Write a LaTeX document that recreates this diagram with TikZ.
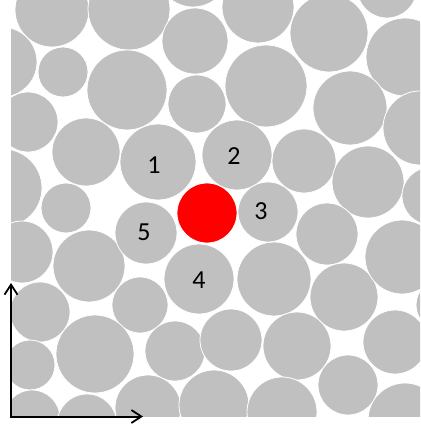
\documentclass[tikz,border=0pt]{standalone}
\usepackage{fontspec}
\setmainfont{Carlito}
\usetikzlibrary{arrows.meta}
\definecolor{ballgray}{HTML}{C0C0C0}
\definecolor{ballred}{HTML}{FF0000}
\tikzset{
  ball/.style={fill=ballgray,draw=white,line width=0.8pt},
  redball/.style={fill=ballred,draw=white,line width=0.8pt},
  lbl/.style={font=\fontsize{26}{26}\selectfont,text=black,inner sep=0pt},
  axis/.style={draw=black,line width=2pt,-{Straight Barb[length=10pt,width=13pt,line width=1.8pt]}}
}
\begin{document}
\begin{tikzpicture}[x=1pt,y=-1pt]
\useasboundingbox[fill=white] (0,0) rectangle (420,427);
\begin{scope}
\clip (11,0) rectangle (420,416);
\foreach \cx/\cy/\r in {
  52/10/37, 129/9/41, 2/62/35, 63/72/25, 127/90/40, 195/41/33, 193/-29/36,
  197/104/29, 28/122/30, 86/152/34, 3/188/39, 66/208/25,
  258/7/36, 329/33/39, 387/-12/30, 405/57/39, 266/86/41, 350/108/37, 420/128/37,
  304/161/32, 368/182/36, 431/196/29, 327/234/31,
  22/252/31, 89/266/36, 140/305/28, 40/312/30, 95/354/39, 175/351/30,
  30/365/25, 32/418/28, 87/424/30, 148/408/33, 214/405/35,
  274/279/37, 344/297/34, 402/257/37, 442/305/26, 231/340/31, 297/346/34,
  395/342/32, 348/385/30, 282/412/35, 405/420/37}
  \path[ball] (\cx,\cy) circle[radius=\r pt];
\path[ball] (158,162) circle[radius=38pt];
\path[ball] (237,155) circle[radius=35pt];
\path[ball] (268,212) circle[radius=30pt];
\path[ball] (199,279) circle[radius=35pt];
\path[ball] (146,233) circle[radius=31pt];
\path[redball] (207,213) circle[radius=30pt];
\end{scope}
\node[lbl] (n1) at (154,165) {1};
\node[lbl] (n2) at (234,156) {2};
\node[lbl] (n3) at (261,211) {3};
\node[lbl] (n4) at (199,280) {4};
\node[lbl] (n5) at (144,232) {5};
\coordinate (o) at (11,416.5);
\coordinate (ytip) at (11,283);
\coordinate (xtip) at (143,416.5);
\draw[axis] ([yshift=-1pt]o) -- (ytip);
\draw[axis] ([xshift=-1pt]o) -- (xtip);
\end{tikzpicture}
\end{document}
